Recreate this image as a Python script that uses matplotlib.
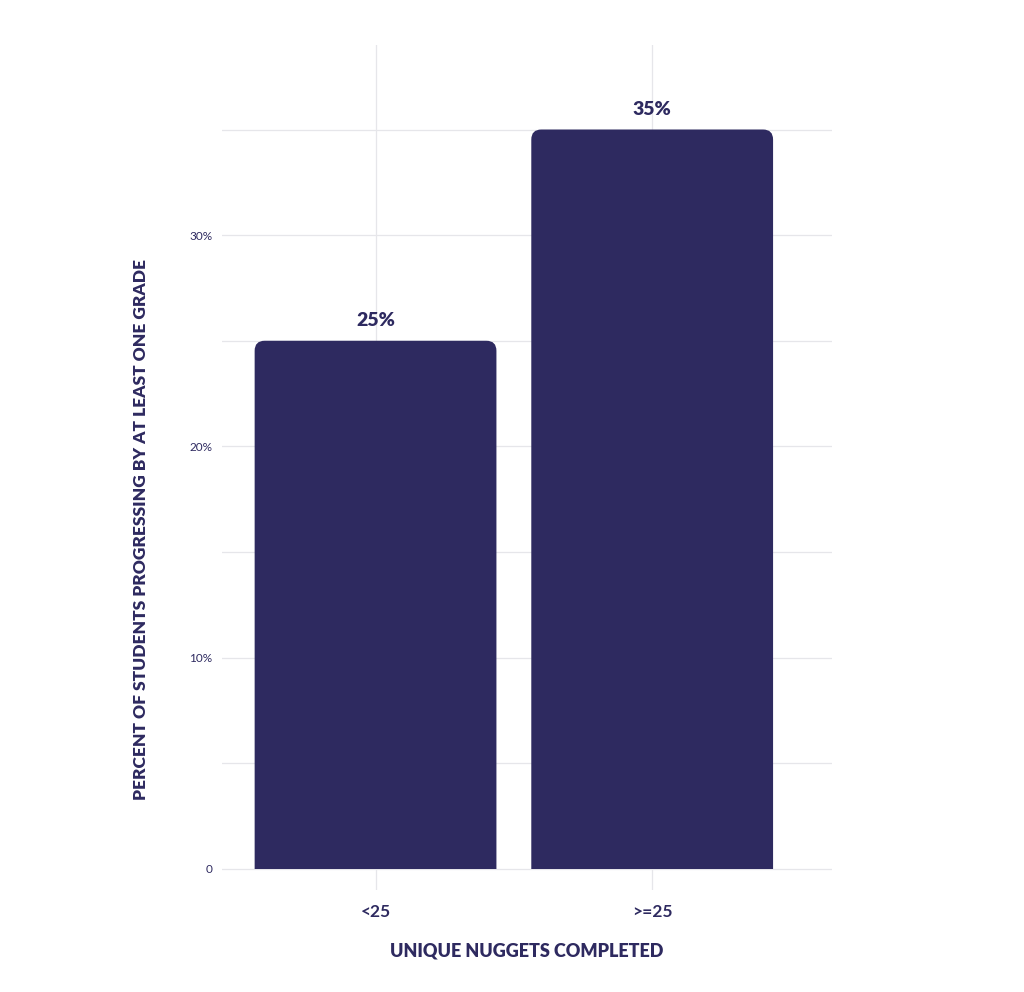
import matplotlib
matplotlib.use('Agg')
import matplotlib.pyplot as plt
from matplotlib.patches import FancyBboxPatch, Rectangle

# data
categories = ['<25', '>=25']
values = [25, 35]
value_labels = ['25%', '35%']
major_ticks = [0, 10, 20, 30]
major_tick_labels = ['0', '10%', '20%', '30%']
minor_ticks = [5, 15, 25, 35]

BAR = '#2e2a60'
TXT = '#2e2a60'
GRID = '#e6e6ea'

plt.rcParams['font.family'] = ['Lato', 'DejaVu Sans']

fig = plt.figure(figsize=(10.24, 9.92), dpi=100)
ax = fig.add_axes([222 / 1024, 1 - 890 / 992, (832 - 222) / 1024, (890 - 45) / 992])

x = list(range(len(categories)))
bars = ax.bar(x, values, width=0.874, color=BAR)

ax.set_xlim(-0.555, 1.65)
ax.set_ylim(-1, 39)

# swap the plain bars for ones with rounded top corners
px_x = (832 - 222) / (1.65 + 0.555)
px_y = (890 - 45) / 40
r = 10 / px_x
clip = Rectangle((-1, 0), 4, 50, transform=ax.transData)
for i, b in enumerate(bars):
    x0, w, h = b.get_x(), b.get_width(), b.get_height()
    b.set_visible(False)
    p = FancyBboxPatch((x0, -2), w, h + 2, boxstyle=f'round,pad=0,rounding_size={r}',
                       mutation_aspect=px_x / px_y, facecolor=BAR, edgecolor='none', zorder=3)
    ax.add_patch(p)
    p.set_clip_path(clip)
    ax.text(x0 + w / 2, h + 0.55, value_labels[i], ha='center', va='bottom',
            fontsize=14, fontweight='heavy', color=TXT, zorder=4)

ax.set_yticks(major_ticks)
ax.set_yticklabels(major_tick_labels)
ax.set_yticks(minor_ticks, minor=True)
ax.set_xticks(x)
ax.set_xticklabels(categories, fontweight='bold')

ax.grid(True, which='both', axis='y', color=GRID, linewidth=0.9)
ax.grid(True, which='major', axis='x', color=GRID, linewidth=0.9)
ax.set_axisbelow(True)

for s in ax.spines.values():
    s.set_visible(False)
ax.tick_params(axis='y', which='both', length=0, pad=7, labelsize=8.5, labelcolor=TXT)
ax.tick_params(axis='x', length=0, pad=10, labelsize=12.5, labelcolor=TXT)

ax.set_xlabel('UNIQUE NUGGETS COMPLETED', fontsize=13, fontweight='heavy', color=TXT)
ax.xaxis.set_label_coords(0.5, -0.062)
ax.set_ylabel('PERCENT OF STUDENTS PROGRESSING BY AT LEAST ONE GRADE', fontsize=12.5,
              fontweight='heavy', color=TXT)
ax.yaxis.set_label_coords(-0.12, 0.427)

fig.savefig('out.png', dpi=100, facecolor='white')
